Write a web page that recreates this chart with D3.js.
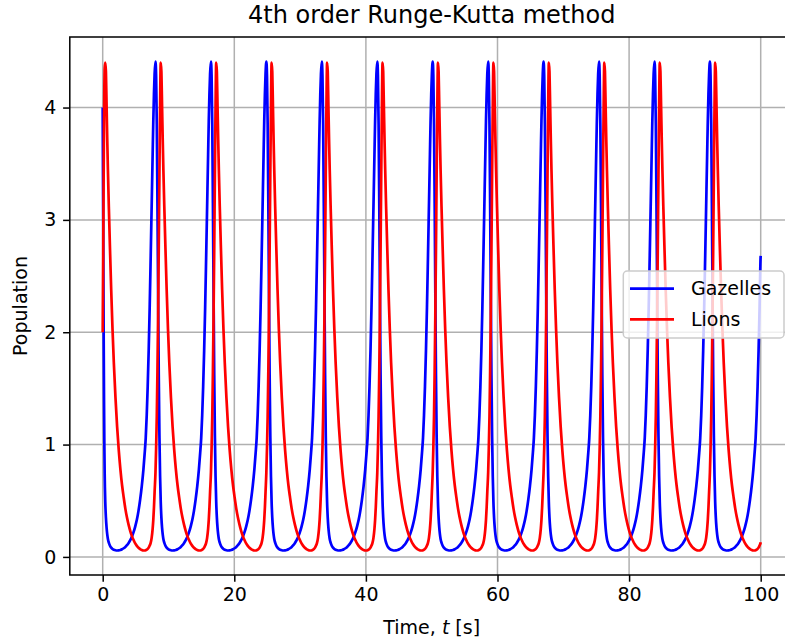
<!DOCTYPE html>
<html>
<head>
<meta charset="utf-8">
<script src="https://cdn.jsdelivr.net/npm/d3@7"></script>
<style>
    body { margin: 0; background: #fff; }
    svg { display: block; font-family: "DejaVu Sans", sans-serif; }
</style>
</head>
<body>
<div id="chart"></div>
<script>
// Values
const xTicks = [0, 20, 40, 60, 80, 100];
const yTicks = [0, 1, 2, 3, 4];

// t = 0 .. 0.3, before the first regular cycle
const startTimes = [0, 0.05, 0.1, 0.15, 0.2, 0.25, 0.3];
const gazelleStart = [4.0, 3.35, 2.65, 1.95, 1.4, 1.0, 0.74];
const lionStart = [2.0, 2.45, 2.95, 3.45, 3.88, 4.18, 4.35];

// times of the gazelle peaks (first one lies just before t = 0)
const cycleStarts = [-0.41, 8.02, 16.45, 24.87, 33.30, 41.73, 50.15, 58.58, 67.00, 75.43, 83.86, 92.28];

// one cycle, time measured from a gazelle peak
const cycleOffsets = [0.00, 0.10, 0.20, 0.30, 0.40, 0.50, 0.60, 0.70, 0.80, 0.90,
    1.00, 1.10, 1.20, 1.35, 1.50, 1.70, 1.90, 2.10, 2.35, 2.60,
    2.85, 3.10, 3.35, 3.60, 3.85, 4.10, 4.35, 4.60, 4.85, 5.10,
    5.35, 5.60, 5.85, 6.10, 6.35, 6.60, 6.80, 6.95, 7.10, 7.25,
    7.40, 7.55, 7.70, 7.85, 8.00, 8.10, 8.20, 8.30];
const gazelleCycle = [4.41, 4.28, 3.85, 3.15, 2.35, 1.62, 1.08, 0.72, 0.49, 0.35,
    0.26, 0.20, 0.16, 0.125, 0.102, 0.083, 0.071, 0.064, 0.059, 0.057,
    0.058, 0.062, 0.068, 0.077, 0.089, 0.104, 0.124, 0.149, 0.180, 0.22,
    0.27, 0.33, 0.41, 0.51, 0.63, 0.78, 0.93, 1.06, 1.26, 1.52,
    1.84, 2.22, 2.66, 3.12, 3.58, 3.88, 4.12, 4.30];
const lionCycle = [0.75, 0.97, 1.25, 1.65, 2.15, 2.75, 3.40, 4.00, 4.40, 4.32,
    4.02, 3.72, 3.45, 3.10, 2.78, 2.38, 2.03, 1.73, 1.42, 1.16,
    0.95, 0.78, 0.64, 0.53, 0.43, 0.35, 0.285, 0.23, 0.185, 0.15,
    0.12, 0.098, 0.081, 0.069, 0.061, 0.057, 0.057, 0.059, 0.064, 0.071,
    0.083, 0.101, 0.125, 0.17, 0.25, 0.33, 0.44, 0.58];

// values at t = 100
const endTime = 100;
const gazelleEnd = 2.68;
const lionEnd = 0.13;

let svg;
let x;
let y;

const width = 785;
const height = 644;
const plot = { left: 69.8, right: 793.6, top: 37, bottom: 575 };

// Put the read cycle at each peak time
function buildSeries(startValues, cycleValues, endValue) {
    const points = startTimes.map((t, i) => [t, startValues[i]]);
    const lastStart = startTimes[startTimes.length - 1];
    cycleStarts.forEach(c => {
        cycleOffsets.forEach((o, i) => {
            const t = c + o;
            if (t > lastStart && t < endTime) {
                points.push([t, cycleValues[i]]);
            }
        });
    });
    points.push([endTime, endValue]);
    return points;
}

function drawChart() {
    svg = d3.select('#chart')
        .append('svg')
        .attr('width', width)
        .attr('height', height);

    x = d3.scaleLinear().domain([-5, 105]).range([plot.left, plot.right]);
    y = d3.scaleLinear().domain([-0.161, 4.628]).range([plot.bottom, plot.top]);

    // Grid
    const grid = svg.append('g');
    grid.selectAll('line.gx')
        .data(xTicks)
        .enter()
        .append('line')
        .attr('x1', d => x(d)).attr('x2', d => x(d))
        .attr('y1', plot.top).attr('y2', plot.bottom)
        .attr('stroke', '#b0b0b0')
        .attr('stroke-width', 1.5);
    grid.selectAll('line.gy')
        .data(yTicks)
        .enter()
        .append('line')
        .attr('x1', plot.left).attr('x2', plot.right)
        .attr('y1', d => y(d)).attr('y2', d => y(d))
        .attr('stroke', '#b0b0b0')
        .attr('stroke-width', 1.5);

    // Series
    const line = d3.line()
        .x(d => x(d[0]))
        .y(d => y(d[1]))
        .curve(d3.curveMonotoneX);

    svg.append('path')
        .datum(buildSeries(gazelleStart, gazelleCycle, gazelleEnd))
        .attr('d', line)
        .attr('fill', 'none')
        .attr('stroke', '#0000ff')
        .attr('stroke-width', 2.7)
        .attr('stroke-linejoin', 'round');

    svg.append('path')
        .datum(buildSeries(lionStart, lionCycle, lionEnd))
        .attr('d', line)
        .attr('fill', 'none')
        .attr('stroke', '#ff0000')
        .attr('stroke-width', 2.7)
        .attr('stroke-linejoin', 'round');

    // Axes
    const xAxis = d3.axisBottom(x)
        .tickValues(xTicks)
        .tickFormat(d3.format('d'))
        .tickSize(6.7)
        .tickPadding(6)
        .tickSizeOuter(0);
    const yAxis = d3.axisLeft(y)
        .tickValues(yTicks)
        .tickFormat(d3.format('d'))
        .tickSize(6.7)
        .tickPadding(6.7)
        .tickSizeOuter(0);

    const gx = svg.append('g')
        .attr('transform', `translate(0,${plot.bottom})`)
        .call(xAxis);
    const gy = svg.append('g')
        .attr('transform', `translate(${plot.left},0)`)
        .call(yAxis);

    [gx, gy].forEach(g => {
        g.select('.domain').remove();
        g.selectAll('.tick line').attr('stroke', '#000').attr('stroke-width', 1.5);
        g.selectAll('.tick text')
            .attr('fill', '#000')
            .style('font-size', '19px')
            .style('font-family', '"DejaVu Sans", sans-serif');
    });

    // Frame
    svg.append('rect')
        .attr('x', plot.left)
        .attr('y', plot.top)
        .attr('width', plot.right - plot.left)
        .attr('height', plot.bottom - plot.top)
        .attr('fill', 'none')
        .attr('stroke', '#000')
        .attr('stroke-width', 1.5);

    // Title and labels
    const midX = (plot.left + plot.right) / 2;
    svg.append('text')
        .attr('x', midX)
        .attr('y', 23)
        .attr('text-anchor', 'middle')
        .style('font-size', '24px')
        .text('4th order Runge-Kutta method');

    const xLabel = svg.append('text')
        .attr('x', midX)
        .attr('y', 634)
        .attr('text-anchor', 'middle')
        .style('font-size', '19px');
    xLabel.append('tspan').text('Time, ');
    xLabel.append('tspan').style('font-style', 'italic').text('t');
    xLabel.append('tspan').text(' [s]');

    svg.append('text')
        .attr('transform', `translate(27,${(plot.top + plot.bottom) / 2}) rotate(-90)`)
        .attr('text-anchor', 'middle')
        .style('font-size', '19px')
        .text('Population');

    drawLegend();
}

function drawLegend() {
    const items = [
        { label: 'Gazelles', color: '#0000ff' },
        { label: 'Lions', color: '#ff0000' }
    ];
    const box = { x: 623.3, y: 271, w: 160.7, h: 67 };

    const lg = svg.append('g');
    lg.append('rect')
        .attr('x', box.x)
        .attr('y', box.y)
        .attr('width', box.w)
        .attr('height', box.h)
        .attr('rx', 4)
        .attr('fill', '#fff')
        .attr('fill-opacity', 0.8)
        .attr('stroke', '#cccccc')
        .attr('stroke-width', 1.5);

    const rows = lg.selectAll('g.row')
        .data(items)
        .enter()
        .append('g')
        .attr('transform', (d, i) => `translate(0,${288.7 + i * 30.6})`);

    rows.append('line')
        .attr('x1', 630).attr('x2', 674)
        .attr('y1', 0).attr('y2', 0)
        .attr('stroke', d => d.color)
        .attr('stroke-width', 2.7);

    rows.append('text')
        .attr('x', 691)
        .attr('y', 0)
        .attr('dy', '0.35em')
        .style('font-size', '19px')
        .text(d => d.label);
}

document.addEventListener('DOMContentLoaded', drawChart);
</script>
</body>
</html>
